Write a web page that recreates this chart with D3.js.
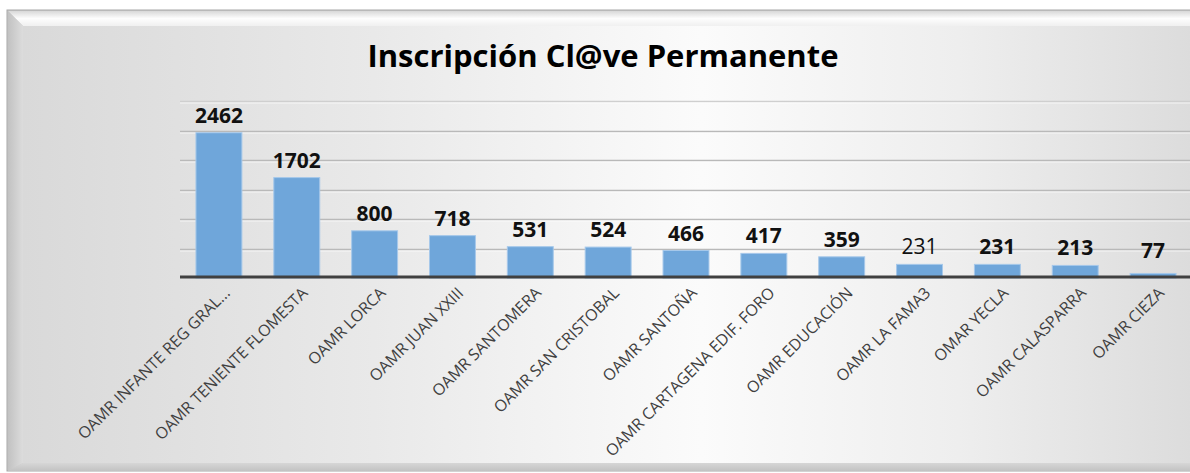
<!DOCTYPE html>
<html>
<head>
<meta charset="utf-8">
<script src="https://cdn.jsdelivr.net/npm/d3@7"></script>
<style>
  html, body { margin: 0; padding: 0; background: #ffffff; }
  svg { display: block; }
</style>
</head>
<body>
<svg id="chart" width="1190" height="473"></svg>
<script>
// ---- data ----
const title = "Inscripción Cl@ve Permanente";
const categories = [
  "OAMR INFANTE REG GRAL...",
  "OAMR TENIENTE FLOMESTA",
  "OAMR LORCA",
  "OAMR JUAN XXIII",
  "OAMR SANTOMERA",
  "OAMR SAN CRISTOBAL",
  "OAMR SANTOÑA",
  "OAMR CARTAGENA EDIF. FORO",
  "OAMR EDUCACIÓN",
  "OAMR LA FAMA3",
  "OMAR YECLA",
  "OAMR CALASPARRA",
  "OAMR CIEZA"
];
const values = [2462, 1702, 800, 718, 531, 524, 466, 417, 359, 231, 231, 213, 77];
const gridTicks = [500, 1000, 1500, 2000, 2500, 3000];
const yMax = 3000;
const plainLabelIndex = 9; // the "231" label drawn in regular weight

// ---- layout ----
const W = 1190, H = 473;
const svg = d3.select("#chart");
const defs = svg.append("defs");

const faceGrad = defs.append("linearGradient").attr("id", "face").attr("x1", "0").attr("x2", "1").attr("y1", "0").attr("y2", "0");
faceGrad.append("stop").attr("offset", "0").attr("stop-color", "#d9d9d9");
faceGrad.append("stop").attr("offset", "0.3").attr("stop-color", "#e9e9e9");
faceGrad.append("stop").attr("offset", "0.58").attr("stop-color", "#fbfbfb");
faceGrad.append("stop").attr("offset", "0.8").attr("stop-color", "#eeeeee");
faceGrad.append("stop").attr("offset", "1").attr("stop-color", "#dcdcdc");

const topGrad = defs.append("linearGradient").attr("id", "topBevel").attr("x1", "0").attr("x2", "0").attr("y1", "0").attr("y2", "1");
topGrad.append("stop").attr("offset", "0").attr("stop-color", "#d8d8d8");
topGrad.append("stop").attr("offset", "0.5").attr("stop-color", "#fdfdfd");
topGrad.append("stop").attr("offset", "1").attr("stop-color", "#f0f0f0");

const leftGrad = defs.append("linearGradient").attr("id", "leftBevel").attr("x1", "0").attr("x2", "1").attr("y1", "0").attr("y2", "0");
leftGrad.append("stop").attr("offset", "0").attr("stop-color", "#c2c2c2");
leftGrad.append("stop").attr("offset", "1").attr("stop-color", "#dcdcdc");

const botGrad = defs.append("linearGradient").attr("id", "botBevel").attr("x1", "0").attr("x2", "0").attr("y1", "0").attr("y2", "1");
botGrad.append("stop").attr("offset", "0").attr("stop-color", "#d6d6d6");
botGrad.append("stop").attr("offset", "1").attr("stop-color", "#c2c2c2");

// frame
const fx0 = 8, fy0 = 10, fx1 = 1192, fy1 = 471, bw = 15, bb = 8;
svg.append("rect").attr("x", fx0 - 1).attr("y", fy0).attr("width", fx1 - fx0 + 2).attr("height", fy1 - fy0)
  .attr("fill", "#c8c8c8").attr("stroke", "#a8a8a8").attr("stroke-width", 1);
svg.append("rect").attr("x", fx0 + bw).attr("y", fy0 + bw + 1).attr("width", fx1 - fx0 - bw).attr("height", fy1 - fy0 - bw - bb - 1)
  .attr("fill", "url(#face)");
svg.append("path").attr("d", `M${fx0},${fy0 + 1} L${fx1},${fy0 + 1} L${fx1},${fy0 + bw + 1} L${fx0 + bw},${fy0 + bw + 1} Z`)
  .attr("fill", "url(#topBevel)");
svg.append("path").attr("d", `M${fx0},${fy0 + 1} L${fx0 + bw},${fy0 + bw + 1} L${fx0 + bw},${fy1 - bb} L${fx0},${fy1} Z`)
  .attr("fill", "url(#leftBevel)");
svg.append("path").attr("d", `M${fx0},${fy1} L${fx0 + bw},${fy1 - bb} L${fx1},${fy1 - bb} L${fx1},${fy1} Z`)
  .attr("fill", "url(#botBevel)");

// scales
const plotLeft = 180, plotRight = 1192, plotBottom = 278, plotTop = 101;
const x = d3.scaleBand().domain(categories).range([plotLeft, plotRight]).paddingInner(0.41).paddingOuter(0.205);
const y = d3.scaleLinear().domain([0, yMax]).range([plotBottom, plotTop]);

// gridlines
svg.append("g").selectAll("line").data(gridTicks).join("line")
  .attr("x1", plotLeft).attr("x2", W)
  .attr("y1", d => Math.round(y(d)) + 0.5).attr("y2", d => Math.round(y(d)) + 0.5)
  .attr("stroke", d => d === yMax ? "#cfcfcf" : "#b9b9b9").attr("stroke-width", 1.6);
svg.append("g").selectAll("line").data(gridTicks).join("line")
  .attr("x1", plotLeft).attr("x2", W)
  .attr("y1", d => Math.round(y(d)) + 2).attr("y2", d => Math.round(y(d)) + 2)
  .attr("stroke", "#ffffff").attr("stroke-opacity", 0.7).attr("stroke-width", 1);

// bars
svg.append("g").selectAll("rect").data(values).join("rect")
  .attr("x", (d, i) => x(categories[i]))
  .attr("y", d => y(d))
  .attr("width", x.bandwidth())
  .attr("height", d => plotBottom - y(d))
  .attr("fill", "#6fa6da")
  .attr("stroke", "#a6c8ea")
  .attr("stroke-width", 1);

// baseline
svg.append("line").attr("x1", plotLeft).attr("x2", W)
  .attr("y1", plotBottom - 1).attr("y2", plotBottom - 1)
  .attr("stroke", "#404040").attr("stroke-width", 3.2);

// value labels
svg.append("g").selectAll("text").data(values).join("text")
  .attr("x", (d, i) => x(categories[i]) + x.bandwidth() / 2)
  .attr("y", d => Math.min(y(d) - 10, 258))
  .attr("text-anchor", "middle")
  .attr("font-family", "'Open Sans', sans-serif")
  .attr("font-size", 21)
  .attr("font-weight", (d, i) => i === plainLabelIndex ? 400 : 700)
  .attr("fill", "#111111")
  .text(d => d);

// category labels
svg.append("g").selectAll("text").data(categories).join("text")
  .attr("transform", d => `translate(${x(d) + x.bandwidth() / 2 + 8},${plotBottom + 12}) rotate(-45)`)
  .attr("text-anchor", "end")
  .attr("dy", "0.35em")
  .attr("font-family", "'Open Sans', sans-serif")
  .attr("font-size", 16)
  .attr("fill", "#404040")
  .text(d => d);

// title
svg.append("text")
  .attr("x", 603).attr("y", 67)
  .attr("text-anchor", "middle")
  .attr("font-family", "'Open Sans', sans-serif")
  .attr("font-size", 31)
  .attr("font-weight", 700)
  .attr("fill", "#000000")
  .text(title);
</script>
</body>
</html>
